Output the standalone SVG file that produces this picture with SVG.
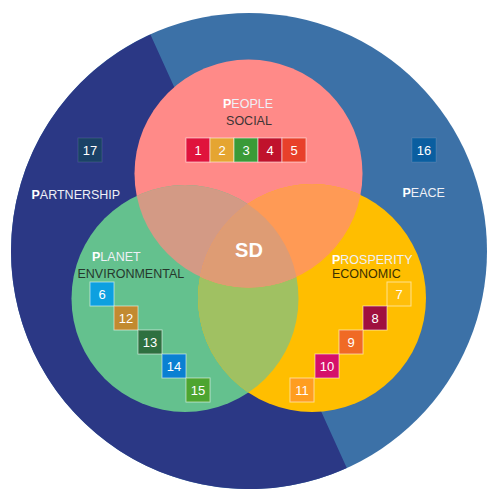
<svg xmlns="http://www.w3.org/2000/svg" width="488" height="489" viewBox="0 0 488 489">
<style>
  text { font-family: "Liberation Sans", Arial, sans-serif; }
  .lbl { font-size: 12.5px; }
  .hi { font-weight: bold; fill: #ffffff; }
  .lt { fill: #eef0f6; }
  .num { font-size: 13px; fill: #ffffff; text-anchor: middle; }
  .box { stroke: #ffffff; stroke-opacity: 0.55; stroke-width: 1; }
  .box.faint { stroke-opacity: 0.12; }
</style>
<defs>
  <clipPath id="cR"><circle cx="248.5" cy="173.5" r="114"/></clipPath>
  <clipPath id="cG"><circle cx="185" cy="298.5" r="113.5"/></clipPath>
</defs>
<rect width="488" height="489" fill="#ffffff"/>
<g id="outer">
  <circle cx="249" cy="251" r="238" fill="#3C71A7"/>
  <path d="M150.4,34.4 A238,238 0 0 0 11,251 A238,238 0 0 0 346.8,468 Z" fill="#2B3885"/>
</g>
<g id="venn">
  <circle id="people" cx="248.5" cy="173.5" r="114" fill="#FF8A88"/>
  <circle id="planet" cx="185" cy="298.5" r="113.5" fill="#64C18E"/>
  <circle id="prosperity" cx="312" cy="298" r="114" fill="#FFBE00"/>
  <g clip-path="url(#cG)">
    <circle cx="312" cy="298" r="114" fill="#A0C162"/>
  </g>
  <g clip-path="url(#cR)">
    <circle cx="185" cy="298.5" r="113.5" fill="#D39A85"/>
    <circle cx="312" cy="298" r="114" fill="#FF9A55"/>
    <g clip-path="url(#cG)">
      <circle cx="312" cy="298" r="114" fill="#DE9C74"/>
    </g>
  </g>
</g>
<g id="sd">
  <text x="249" y="257" font-size="20" font-weight="bold" fill="#ffffff" text-anchor="middle">SD</text>
</g>
<g id="people-label">
  <text class="lbl" x="248" y="108" text-anchor="middle"><tspan class="hi">P</tspan><tspan class="lt">EOPLE</tspan></text>
  <text class="lbl" x="249" y="124.5" text-anchor="middle" fill="#3d3535">SOCIAL</text>
</g>
<g id="people-goals">
  <rect class="box" x="186" y="138" width="24" height="24" fill="#E0133C"/>
  <rect class="box" x="210" y="138" width="24" height="24" fill="#E5A531"/>
  <rect class="box" x="234" y="138" width="24" height="24" fill="#3A9A37"/>
  <rect class="box" x="258" y="138" width="24" height="24" fill="#C0122C"/>
  <rect class="box" x="282" y="138" width="24" height="24" fill="#E8402A"/>
  <text class="num" x="198" y="155">1</text>
  <text class="num" x="222" y="155">2</text>
  <text class="num" x="246" y="155">3</text>
  <text class="num" x="270" y="155">4</text>
  <text class="num" x="294" y="155">5</text>
</g>
<g id="planet-label">
  <text class="lbl" x="92" y="261"><tspan class="hi">P</tspan><tspan class="lt">LANET</tspan></text>
  <text class="lbl" x="77.5" y="277.5" fill="#26382d">ENVIRONMENTAL</text>
</g>
<g id="planet-goals">
  <rect class="box" x="90" y="282" width="24" height="24" fill="#0DA0E0"/>
  <rect class="box" x="114" y="306" width="24" height="24" fill="#C28A30"/>
  <rect class="box" x="138" y="330" width="24" height="24" fill="#2E7040"/>
  <rect class="box" x="162" y="354" width="24" height="24" fill="#0A80D2"/>
  <rect class="box" x="186" y="378" width="24" height="24" fill="#4DA530"/>
  <text class="num" x="102" y="299">6</text>
  <text class="num" x="126" y="323">12</text>
  <text class="num" x="150" y="347">13</text>
  <text class="num" x="174" y="371">14</text>
  <text class="num" x="198" y="395">15</text>
</g>
<g id="prosperity-label">
  <text class="lbl" x="332" y="264"><tspan class="hi">P</tspan><tspan class="lt">ROSPERITY</tspan></text>
  <text class="lbl" x="332" y="277.5" fill="#3a3000">ECONOMIC</text>
</g>
<g id="prosperity-goals">
  <rect class="box" x="387" y="282" width="24" height="24" fill="#FFBE0A"/>
  <rect class="box" x="363" y="306" width="24" height="24" fill="#A0103F"/>
  <rect class="box" x="339" y="330" width="24" height="24" fill="#F06A25"/>
  <rect class="box" x="315" y="354" width="24" height="24" fill="#D5106A"/>
  <rect class="box" x="290" y="378" width="24" height="24" fill="#FF9D20"/>
  <text class="num" x="399" y="299">7</text>
  <text class="num" x="375" y="323">8</text>
  <text class="num" x="351" y="347">9</text>
  <text class="num" x="327" y="371">10</text>
  <text class="num" x="302" y="395">11</text>
</g>
<g id="partnership">
  <rect class="box faint" x="78" y="138" width="24" height="24" fill="#1A4266"/>
  <text class="num" x="90" y="155">17</text>
  <text class="lbl" x="31.5" y="199"><tspan class="hi">P</tspan><tspan class="lt">ARTNERSHIP</tspan></text>
</g>
<g id="peace">
  <rect class="box faint" x="412" y="138" width="24" height="24" fill="#0A5EA0"/>
  <text class="num" x="424" y="155">16</text>
  <text class="lbl" x="402.5" y="197"><tspan class="hi">P</tspan><tspan class="lt">EACE</tspan></text>
</g>
</svg>
